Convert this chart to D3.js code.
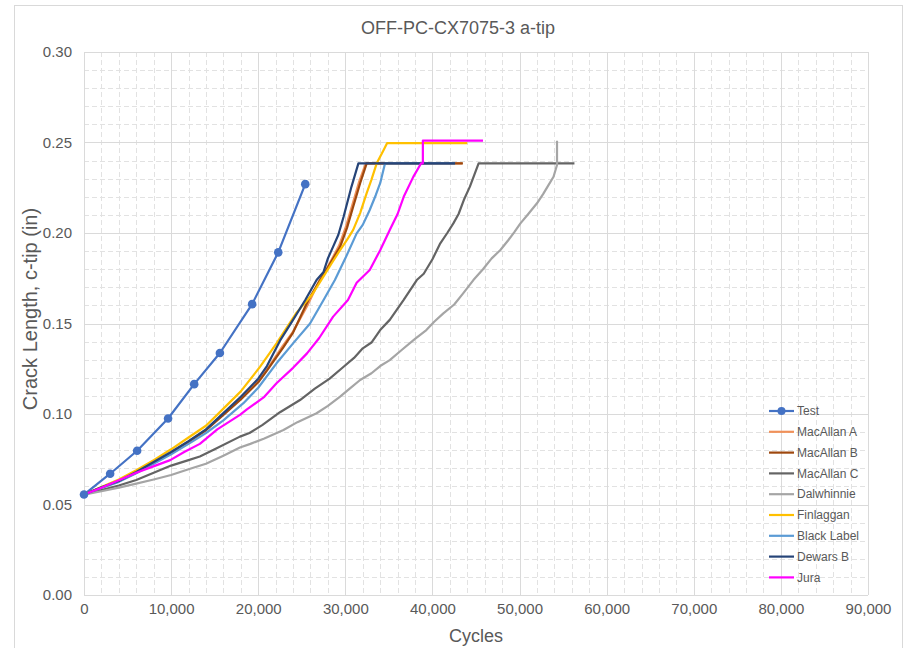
<!DOCTYPE html>
<html>
<head>
<meta charset="utf-8">
<script src="https://cdn.jsdelivr.net/npm/d3@7"></script>
<style>
  body { margin: 0; background: #fff; }
  svg { display: block; font-family: "Liberation Sans", Arial, sans-serif; }
</style>
</head>
<body>
<svg id="chart" width="908" height="648"></svg>
<script>
// data: [cycles, crack length (in)]
const test = [[0,0.0555],[3000,0.067],[6100,0.0797],[9650,0.0975],[12650,0.1165],[15600,0.1337],[19300,0.1607],[22300,0.1893],[25400,0.227]];

const macallanA = [[0,0.0555],[2000,0.0594],[4000,0.063],[6000,0.0677],[8000,0.0732],[10000,0.0787],[12000,0.0848],[14000,0.0912],[16000,0.0998],[18000,0.1085],[20000,0.118],[21000,0.1245],[22800,0.1375],[24000,0.1455],[25600,0.1595],[27000,0.1735],[27900,0.1805],[29300,0.1932],[30100,0.204],[30800,0.2155],[31600,0.2285],[32350,0.2385],[43400,0.2385]];

const macallanB = [[0,0.0555],[2000,0.0593],[4000,0.0628],[6000,0.0675],[8000,0.073],[10000,0.0785],[12000,0.0845],[14000,0.091],[16000,0.0995],[18000,0.108],[20000,0.1175],[21000,0.124],[22900,0.137],[24000,0.145],[25750,0.163],[27100,0.174],[28000,0.181],[29400,0.1924],[30200,0.203],[30900,0.2145],[31700,0.2275],[32450,0.2385],[43500,0.2385]];

const macallanC = [[0,0.0555],[2000,0.058],[4000,0.0605],[6000,0.0635],[8000,0.0675],[10000,0.0715],[12000,0.0745],[13300,0.0765],[15000,0.0805],[17900,0.0875],[19000,0.0895],[20500,0.094],[22500,0.101],[24800,0.1077],[26500,0.114],[28200,0.1195],[29800,0.1261],[31000,0.131],[32000,0.1363],[33000,0.1395],[34000,0.1464],[35100,0.152],[36700,0.163],[38200,0.174],[39000,0.1775],[40000,0.1855],[40900,0.1943],[41700,0.2],[42400,0.2053],[43000,0.2105],[43600,0.2182],[44300,0.2256],[45300,0.2385],[56300,0.2385]];

const dalwhinnie = [[0,0.0555],[2000,0.0573],[4000,0.0593],[6000,0.0615],[8000,0.0638],[10000,0.0663],[12000,0.0695],[14000,0.0725],[16000,0.077],[17900,0.0815],[19100,0.0835],[20700,0.0865],[22900,0.0912],[24500,0.0955],[26700,0.1004],[28000,0.1045],[29400,0.1096],[30500,0.114],[31700,0.1188],[33000,0.1225],[34000,0.1265],[35100,0.1298],[36500,0.1355],[38000,0.1415],[39300,0.1464],[40200,0.151],[41250,0.1556],[42500,0.1605],[43500,0.1665],[44700,0.174],[45800,0.18],[46800,0.186],[47800,0.1906],[48700,0.196],[49400,0.2005],[50100,0.2053],[51000,0.2105],[52000,0.2164],[52700,0.2215],[53200,0.2255],[53900,0.2311],[54300,0.2376],[54300,0.251]];

const finlaggan = [[0,0.0555],[2000,0.0597],[4000,0.0638],[6000,0.069],[8000,0.0745],[10000,0.0805],[12000,0.087],[14000,0.0935],[15800,0.102],[18000,0.1125],[20200,0.126],[22100,0.139],[24400,0.156],[26200,0.166],[27500,0.176],[28400,0.183],[29400,0.1906],[30300,0.197],[30900,0.2017],[31700,0.211],[32450,0.222],[33000,0.2295],[33600,0.2385],[34400,0.2459],[34800,0.2497],[44000,0.2497]];

const blackLabel = [[0,0.0555],[2000,0.0592],[4000,0.0625],[6000,0.0672],[8000,0.0725],[10000,0.0778],[12000,0.0835],[14000,0.0895],[16000,0.0965],[18300,0.106],[20000,0.1145],[22100,0.128],[24000,0.139],[25950,0.15],[27500,0.163],[28800,0.174],[30000,0.186],[31300,0.1998],[32000,0.2045],[32800,0.2127],[33500,0.221],[34000,0.2275],[34560,0.2385],[42600,0.2385]];

const dewarsB = [[0,0.0555],[2000,0.0595],[4000,0.063],[6000,0.068],[8000,0.0735],[10000,0.079],[12000,0.085],[14000,0.0915],[16000,0.1005],[18000,0.1095],[20000,0.1195],[21000,0.1265],[22500,0.1405],[24000,0.152],[25400,0.163],[26700,0.174],[27500,0.1785],[28000,0.186],[28600,0.1925],[29200,0.199],[29800,0.209],[30700,0.2255],[31500,0.2385],[42600,0.2385]];

const jura = [[0,0.0555],[2000,0.0593],[3800,0.063],[6000,0.0675],[7650,0.0705],[9900,0.0745],[11500,0.079],[13300,0.0835],[15300,0.0915],[17900,0.0995],[18700,0.1025],[20700,0.1095],[22100,0.117],[24000,0.1255],[25600,0.1335],[27000,0.142],[28600,0.1538],[30300,0.163],[31300,0.1725],[32800,0.1796],[34000,0.1905],[35100,0.2017],[36000,0.2105],[36700,0.22],[37800,0.231],[38700,0.2385],[38900,0.2385],[38900,0.251],[45800,0.251]];

const seriesNames = ["Test", "MacAllan A", "MacAllan B", "MacAllan C", "Dalwhinnie", "Finlaggan", "Black Label", "Dewars B", "Jura"];
const seriesData = [test, macallanA, macallanB, macallanC, dalwhinnie, finlaggan, blackLabel, dewarsB, jura];
const seriesColors = ["#4472C4", "#F0915A", "#9E480E", "#646464", "#A5A5A5", "#FFC000", "#5B9BD5", "#264478", "#FF00FF"];

const xTicks = d3.range(0, 90001, 10000);
const yTicks = [0, 0.05, 0.10, 0.15, 0.20, 0.25, 0.30];

const svg = d3.select("#chart");
const textColor = "#595959";

// chart frame
svg.append("rect")
    .attr("x", 14.5).attr("y", 5.5)
    .attr("width", 888).attr("height", 660)
    .attr("fill", "#fff")
    .attr("stroke", "#D9D9D9");

const x = d3.scaleLinear().domain([0, 90000]).range([84, 868]);
const y = d3.scaleLinear().domain([0, 0.30]).range([595, 52]);

// minor grid (dashed)
const grid = svg.append("g");
grid.selectAll(".vminor")
    .data(d3.range(2000, 90000, 2000).filter(v => v % 10000 !== 0))
    .enter().append("line")
    .attr("x1", d => Math.round(x(d)) + 0.5).attr("x2", d => Math.round(x(d)) + 0.5)
    .attr("y1", y(0.30)).attr("y2", y(0))
    .attr("stroke", "#E2E2E2").attr("stroke-dasharray", "5,3");
grid.selectAll(".hminor")
    .data(d3.range(1, 30).filter(i => i % 5 !== 0))
    .enter().append("line")
    .attr("x1", x(0)).attr("x2", x(90000))
    .attr("y1", d => Math.round(y(d / 100)) + 0.5).attr("y2", d => Math.round(y(d / 100)) + 0.5)
    .attr("stroke", "#E2E2E2").attr("stroke-dasharray", "5,3");

// major grid
grid.selectAll(".vmajor")
    .data(xTicks)
    .enter().append("line")
    .attr("x1", d => Math.round(x(d)) + 0.5).attr("x2", d => Math.round(x(d)) + 0.5)
    .attr("y1", y(0.30)).attr("y2", y(0))
    .attr("stroke", "#DADADA");
grid.selectAll(".hmajor")
    .data(yTicks)
    .enter().append("line")
    .attr("x1", x(0)).attr("x2", x(90000))
    .attr("y1", d => Math.round(y(d)) + 0.5).attr("y2", d => Math.round(y(d)) + 0.5)
    .attr("stroke", "#DADADA");

// axes
const xAxis = svg.append("g")
    .attr("transform", `translate(0,${y(0)})`)
    .call(d3.axisBottom(x).tickValues(xTicks).tickSize(0).tickPadding(8).tickFormat(d3.format(",")));
const yAxis = svg.append("g")
    .attr("transform", `translate(${x(0)},0)`)
    .call(d3.axisLeft(y).tickValues(yTicks).tickSize(0).tickPadding(12).tickFormat(d3.format(".2f")));
[xAxis, yAxis].forEach(a => {
    a.select(".domain").remove();
    a.selectAll("text")
        .attr("fill", textColor)
        .style("font-size", "15px")
        .style("font-family", "'Liberation Sans', Arial, sans-serif");
});

// series lines
const line = d3.line().x(d => x(d[0])).y(d => y(d[1]));
seriesData.forEach((data, i) => {
    svg.append("path")
        .datum(data)
        .attr("fill", "none")
        .attr("stroke", seriesColors[i])
        .attr("stroke-width", 2.2)
        .attr("stroke-linejoin", "round")
        .attr("d", line);
});

// markers for the test series
svg.selectAll(".marker")
    .data(test)
    .enter().append("circle")
    .attr("cx", d => x(d[0]))
    .attr("cy", d => y(d[1]))
    .attr("r", 4.3)
    .attr("fill", seriesColors[0]);

// titles
svg.append("text")
    .attr("x", 458).attr("y", 34)
    .attr("text-anchor", "middle")
    .attr("fill", textColor)
    .style("font-size", "18px")
    .text("OFF-PC-CX7075-3 a-tip");

svg.append("text")
    .attr("x", 476).attr("y", 642)
    .attr("text-anchor", "middle")
    .attr("fill", textColor)
    .style("font-size", "18px")
    .text("Cycles");

svg.append("text")
    .attr("transform", "translate(37,309) rotate(-90)")
    .attr("text-anchor", "middle")
    .attr("fill", textColor)
    .style("font-size", "20px")
    .text("Crack Length, c-tip (in)");

// legend
const legend = svg.append("g").attr("transform", "translate(769,411)");
const rows = legend.selectAll("g")
    .data(seriesNames)
    .enter().append("g")
    .attr("transform", (d, i) => `translate(0,${i * 20.8})`);
rows.append("line")
    .attr("x1", 0).attr("x2", 25)
    .attr("stroke", (d, i) => seriesColors[i])
    .attr("stroke-width", 2.2);
rows.filter((d, i) => i === 0).append("circle")
    .attr("cx", 12.5).attr("r", 4)
    .attr("fill", seriesColors[0]);
rows.append("text")
    .attr("x", 28).attr("dy", "0.35em")
    .attr("fill", textColor)
    .style("font-size", "12px")
    .text(d => d);
</script>
</body>
</html>
